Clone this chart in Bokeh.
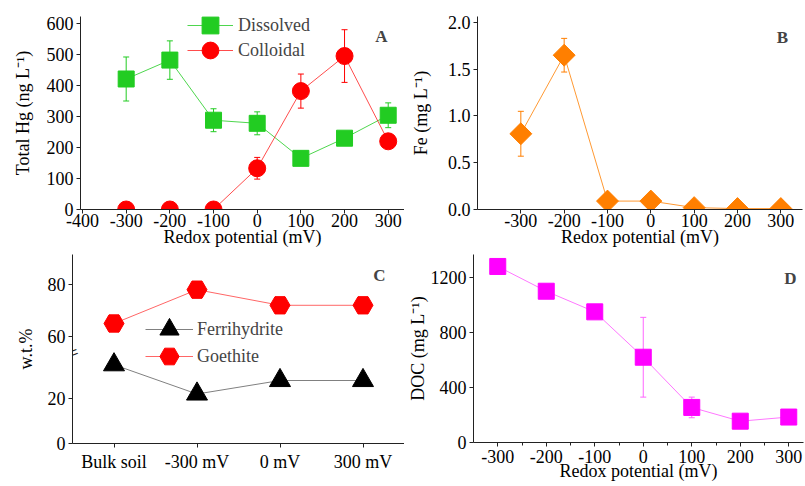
from bokeh.plotting import figure
from bokeh.models import (ColumnDataSource, Whisker, TeeHead, Legend, LegendItem, Label,
                          FixedTicker, PrintfTickFormatter, Range1d, FactorRange)
from bokeh.layouts import column, row
from bokeh.embed import file_html
from bokeh.resources import INLINE

# ---------------- data ----------------
redox = [-300, -200, -100, 0, 100, 200, 300]
hg_dissolved = [421, 482, 288, 278, 165, 230, 304]
hg_dissolved_err = [71, 62, 37, 37, 0, 0, 40]
hg_colloidal = [0, 0, 0, 133, 382, 495, 220]
hg_colloidal_err = [0, 0, 0, 35, 55, 85, 0]

fe = [0.81, 1.65, 0.09, 0.09, 0.02, 0.01, 0.01]
fe_err = [0.24, 0.18, 0, 0, 0, 0, 0]

samples = ["Bulk soil", "-300 mV", "0 mV", "300 mV"]
ferrihydrite = [35, 22, 28, 28]
goethite = [65, 78, 72, 72]

doc = [1280, 1100, 950, 620, 255, 155, 185]
doc_err = [0, 0, 0, 290, 75, 40, 0]

a_xticks = [-400, -300, -200, -100, 0, 100, 200, 300]
a_xtick_labels = ["-400", "-300", "-200", "-100", "0", "100", "200", "300"]
a_yticks = [0, 100, 200, 300, 400, 500, 600]
bd_xticks = [-300, -200, -100, 0, 100, 200, 300]
bd_xtick_labels = ["-300", "-200", "-100", "0", "100", "200", "300"]
b_yticks = [0.0, 0.5, 1.0, 1.5, 2.0]
c_yticks = [0, 20, 60, 80]
c_ytick_labels = ["0", "20", "60", "80"]
d_yticks = [0, 400, 800, 1200]
d_minor = [-250, -150, -50, 50, 150, 250]

FONT = "Liberation Serif"
AX = "#222222"

# broken y axis of panel C (lower segment 0-40, upper segment from ~54)
BREAK_Y = 40.3
UP_BASE, UP_REF, UP_SCALE = 47.56, 60.0, 1.1556


def brk(v):
    return v if v <= BREAK_Y else round(UP_BASE + (v - UP_REF) * UP_SCALE, 4)


def make_fig(fw, fh, xr, yr, mbl, mbr, mbt, mbb):
    p = figure(frame_width=fw, frame_height=fh, x_range=xr, y_range=yr,
               output_backend="svg", toolbar_location=None, title=None,
               min_border_left=mbl, min_border_right=mbr,
               min_border_top=mbt, min_border_bottom=mbb)
    p.outline_line_color = None
    p.grid.visible = False
    p.background_fill_color = "white"
    p.border_fill_color = "white"
    for ax in (p.xaxis[0], p.yaxis[0]):
        ax.axis_line_color = AX
        ax.axis_line_width = 1
        ax.major_tick_line_color = AX
        ax.major_tick_in = 0
        ax.major_tick_out = 4
        ax.minor_tick_line_color = None
        ax.major_label_text_font = FONT
        ax.major_label_text_font_size = "18px"
        ax.major_label_text_color = "black"
        ax.axis_label_text_font = FONT
        ax.axis_label_text_font_size = "18px"
        ax.axis_label_text_font_style = "normal"
        ax.axis_label_text_color = "black"
    p.xaxis[0].major_label_standoff = 0
    p.yaxis[0].major_label_standoff = 3
    return p


def add_err(p, x, y, e, color):
    xs = [a for a, b in zip(x, e) if b > 0]
    lo = [a - b for a, b in zip(y, e) if b > 0]
    hi = [a + b for a, b in zip(y, e) if b > 0]
    src = ColumnDataSource(dict(x=xs, lo=lo, hi=hi))
    w = Whisker(source=src, base="x", lower="lo", upper="hi", line_color=color,
                line_width=1, level="underlay",
                upper_head=TeeHead(size=6, line_color=color, line_width=1),
                lower_head=TeeHead(size=6, line_color=color, line_width=1))
    p.add_layout(w)


def add_legend(p, label, renderers, loc, gw, gh, standoff):
    lg = Legend(items=[LegendItem(label=label, renderers=renderers)], location=loc,
                glyph_width=gw, glyph_height=gh, label_standoff=standoff,
                padding=0, margin=0, background_fill_alpha=0, border_line_alpha=0,
                label_text_font=FONT, label_text_font_size="18px")
    p.add_layout(lg)


def add_letter(p, text, x, y):
    p.add_layout(Label(x=x, y=y, x_units="screen", y_units="screen", text=text,
                       text_font=FONT, text_font_style="bold", text_font_size="17px",
                       text_align="center", text_baseline="middle"))


# ---------------- panel A ----------------
pa = make_fig(324, 193, Range1d(-404.6, 337.3), Range1d(0, 622.6), 80, 0, 16, 41)
pa.xaxis[0].ticker = FixedTicker(ticks=a_xticks)
pa.xaxis[0].major_label_overrides = dict(zip(a_xticks, a_xtick_labels))
pa.yaxis[0].ticker = FixedTicker(ticks=a_yticks)
pa.xaxis[0].axis_label = "Redox potential (mV)"
pa.xaxis[0].axis_label_standoff = -3
pa.yaxis[0].axis_label = "Total Hg (ng L\u207b\u00b9)"
pa.yaxis[0].axis_label_standoff = 11

GREEN = "#22CC22"
RED = "#FF0000"
add_err(pa, redox, hg_dissolved, hg_dissolved_err, GREEN)
add_err(pa, redox, hg_colloidal, hg_colloidal_err, RED)
la1 = pa.line(redox, hg_dissolved, line_color=GREEN, line_width=1, line_alpha=0.8)
sa1 = pa.scatter(redox, hg_dissolved, marker="square", size=16, fill_color=GREEN, line_color=GREEN)
la2 = pa.line(redox, hg_colloidal, line_color=RED, line_width=1, line_alpha=0.7)
sa2 = pa.scatter(redox, hg_colloidal, marker="circle", size=17, fill_color=RED, line_color=RED)
add_legend(pa, "Dissolved", [la1, sa1], (107, 163), 46, 42, 5)
add_legend(pa, "Colloidal", [la2, sa2], (107, 138), 46, 42, 5)
add_letter(pa, "A", 301, 173)

# ---------------- panel B ----------------
pb = make_fig(325, 193, Range1d(-400, 350), Range1d(0, 2.064), 73, 3, 16, 41)
pb.xaxis[0].ticker = FixedTicker(ticks=bd_xticks)
pb.xaxis[0].major_label_overrides = dict(zip(bd_xticks, bd_xtick_labels))
pb.yaxis[0].ticker = FixedTicker(ticks=b_yticks)
pb.yaxis[0].formatter = PrintfTickFormatter(format="%.1f")
pb.xaxis[0].axis_label = "Redox potential (mV)"
pb.xaxis[0].axis_label_standoff = -3
pb.yaxis[0].axis_label = "Fe (mg L\u207b\u00b9)"
pb.yaxis[0].axis_label_standoff = 14

ORANGE = "#FF7F00"
add_err(pb, redox, fe, fe_err, ORANGE)
pb.line(redox, fe, line_color="#FF9933", line_width=1)
pb.scatter(redox, fe, marker="square", angle=0.785398, size=15.5,
           fill_color=ORANGE, line_color=ORANGE)
add_letter(pb, "B", 305, 172)

# ---------------- panel C ----------------
pc = make_fig(332, 189, FactorRange(factors=samples), Range1d(0, 84.0), 72, 0, 4, 43)
c_pos = [brk(v) for v in c_yticks]
pc.yaxis[0].ticker = FixedTicker(ticks=c_pos)
pc.yaxis[0].major_label_overrides = dict(zip(c_pos, c_ytick_labels))
pc.xaxis[0].major_label_standoff = 4
pc.yaxis[0].axis_label = "w.t.%"
pc.yaxis[0].axis_label_standoff = 9

lc1 = pc.line(samples, [brk(v) for v in ferrihydrite], line_color="#808080", line_width=1)
sc1 = pc.scatter(samples, [brk(v) for v in ferrihydrite], marker="triangle", size=21,
                 fill_color="black", line_color="black")
lc2 = pc.line(samples, [brk(v) for v in goethite], line_color="#FF6666", line_width=1)
sc2 = pc.scatter(samples, [brk(v) for v in goethite], marker="hex", size=20,
                 fill_color=RED, line_color=RED)
add_legend(pc, "Ferrihydrite", [lc1, sc1], (73, 89), 48, 50, 4)
add_legend(pc, "Goethite", [lc2, sc2], (73, 62), 48, 50, 4)
# axis break mark
pc.add_layout(Label(x=0, y=BREAK_Y, x_units="screen", y_units="data", text="=",
                    angle=0.36, text_align="center", text_baseline="middle",
                    text_font=FONT, text_font_size="20px", text_color=AX))
add_letter(pc, "C", 307, 168)

# ---------------- panel D ----------------
pd_ = make_fig(330, 188, Range1d(-350, 330.4), Range1d(0, 1367), 69, 2, 4, 44)
pd_.xaxis[0].ticker = FixedTicker(ticks=bd_xticks, minor_ticks=d_minor)
pd_.xaxis[0].major_label_overrides = dict(zip(bd_xticks, bd_xtick_labels))
pd_.xaxis[0].minor_tick_line_color = AX
pd_.xaxis[0].minor_tick_in = 0
pd_.xaxis[0].minor_tick_out = 3
pd_.xaxis[0].major_label_standoff = 3
pd_.yaxis[0].ticker = FixedTicker(ticks=d_yticks)
pd_.xaxis[0].axis_label = "Redox potential (mV)"
pd_.xaxis[0].axis_label_standoff = -5
pd_.yaxis[0].axis_label = "DOC (mg L\u207b\u00b9)"
pd_.yaxis[0].axis_label_standoff = 0

MAGENTA = "#FF00FF"
add_err(pd_, redox, doc, doc_err, "#FF66FF")
pd_.line(redox, doc, line_color="#FF77FF", line_width=1)
pd_.scatter(redox, doc, marker="square", size=16, fill_color=MAGENTA, line_color=MAGENTA)
add_letter(pd_, "D", 317, 164)

layout = column(row(pa, pb), row(pc, pd_))
open("out.html", "w").write(file_html(layout, INLINE))
